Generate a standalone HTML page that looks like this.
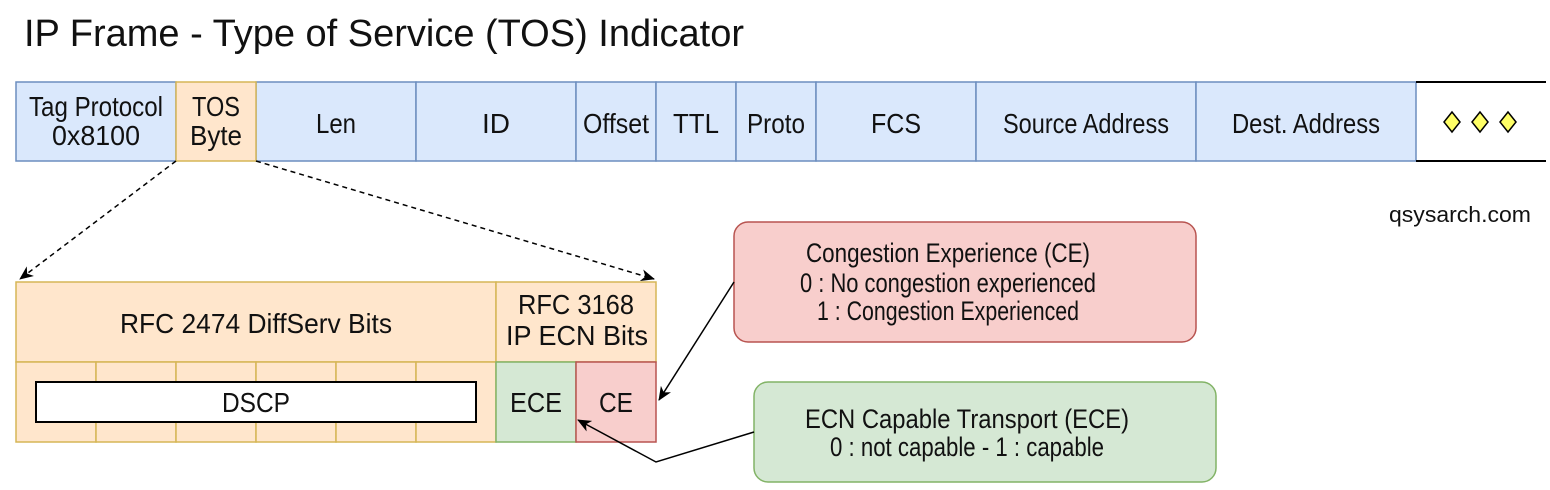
<!DOCTYPE html>
<html><head><meta charset="utf-8"><style>
body{margin:0;background:#fff;width:1550px;height:485px;overflow:hidden}
svg text{font-family:"Liberation Sans",sans-serif;fill:#111;text-anchor:middle}
</style></head><body>
<svg width="1550" height="485" xmlns="http://www.w3.org/2000/svg">
<defs><marker id="a" markerWidth="14" markerHeight="12" refX="13" refY="6" orient="auto" markerUnits="userSpaceOnUse"><path d="M0,0 L14,6 L0,12 L4,6 z" fill="#000"/></marker></defs>
<text x="24" y="46" font-size="38" style="text-anchor:start" textLength="720" lengthAdjust="spacingAndGlyphs">IP Frame  - Type of Service (TOS) Indicator</text>
<g stroke="#6c8ebf" stroke-width="1.5" fill="#dae8fc">
<rect x="16" y="82" width="160" height="79"/><rect x="256" y="82" width="160" height="79"/><rect x="416" y="82" width="160" height="79"/><rect x="576" y="82" width="80" height="79"/><rect x="656" y="82" width="80" height="79"/><rect x="736" y="82" width="80" height="79"/><rect x="816" y="82" width="160" height="79"/><rect x="976" y="82" width="220" height="79"/><rect x="1196" y="82" width="220" height="79"/>
</g>
<rect x="176" y="82" width="80" height="79" fill="#ffe6cc" stroke="#d6b656" stroke-width="1.5"/>
<line x1="1416" y1="82" x2="1546" y2="82" stroke="#000" stroke-width="2"/><line x1="1416" y1="161" x2="1546" y2="161" stroke="#000" stroke-width="2"/>
<g fill="#ffff66" stroke="#000" stroke-width="1.5"><path d="M1452,112 L1460,122 L1452,132 L1444,122z"/><path d="M1480,112 L1488,122 L1480,132 L1472,122z"/><path d="M1508,112 L1516,122 L1508,132 L1500,122z"/></g>
<g font-size="28">
<text x="96" y="116" textLength="134" lengthAdjust="spacingAndGlyphs">Tag Protocol</text><text x="96" y="145" textLength="88" lengthAdjust="spacingAndGlyphs">0x8100</text>
<text x="216" y="116" textLength="48" lengthAdjust="spacingAndGlyphs">TOS</text><text x="216" y="145" textLength="52" lengthAdjust="spacingAndGlyphs">Byte</text>
<text x="336" y="133" textLength="40" lengthAdjust="spacingAndGlyphs">Len</text><text x="496" y="133">ID</text><text x="616" y="133" textLength="66" lengthAdjust="spacingAndGlyphs">Offset</text><text x="696" y="133" textLength="46" lengthAdjust="spacingAndGlyphs">TTL</text><text x="776" y="133" textLength="58" lengthAdjust="spacingAndGlyphs">Proto</text><text x="896" y="133" textLength="50" lengthAdjust="spacingAndGlyphs">FCS</text><text x="1086" y="133" textLength="166" lengthAdjust="spacingAndGlyphs">Source Address</text><text x="1306" y="133" textLength="148" lengthAdjust="spacingAndGlyphs">Dest. Address</text>
</g>
<text x="1460" y="222" font-size="22" textLength="142" lengthAdjust="spacingAndGlyphs">qsysarch.com</text>
<g stroke="#000" stroke-width="1.5" stroke-dasharray="5,4" fill="none">
<line x1="176" y1="161" x2="20" y2="279" marker-end="url(#a)"/><line x1="256" y1="161" x2="654" y2="279" marker-end="url(#a)"/>
</g>
<g stroke="#d6b656" stroke-width="1.5" fill="#ffe6cc">
<rect x="16" y="282" width="480" height="80"/><rect x="496" y="282" width="160" height="80"/>
<rect x="16" y="362" width="80" height="80"/><rect x="96" y="362" width="80" height="80"/><rect x="176" y="362" width="80" height="80"/><rect x="256" y="362" width="80" height="80"/><rect x="336" y="362" width="80" height="80"/><rect x="416" y="362" width="80" height="80"/>
</g>
<rect x="496" y="362" width="80" height="80" fill="#d5e8d4" stroke="#82b366" stroke-width="1.5"/>
<rect x="576" y="362" width="80" height="80" fill="#f8cecc" stroke="#b85450" stroke-width="1.5"/>
<rect x="36" y="382" width="440" height="40" fill="#fff" stroke="#000" stroke-width="2"/>
<g font-size="28">
<text x="256" y="333" textLength="272" lengthAdjust="spacingAndGlyphs">RFC 2474 DiffServ Bits</text>
<text x="576" y="314" textLength="116" lengthAdjust="spacingAndGlyphs">RFC 3168</text><text x="577" y="345" textLength="142" lengthAdjust="spacingAndGlyphs">IP ECN Bits</text>
<text x="256" y="412" textLength="68" lengthAdjust="spacingAndGlyphs">DSCP</text><text x="536" y="412" textLength="52" lengthAdjust="spacingAndGlyphs">ECE</text><text x="616" y="412" textLength="34" lengthAdjust="spacingAndGlyphs">CE</text>
</g>
<rect x="734" y="222" width="462" height="120" rx="14" fill="#f8cecc" stroke="#b85450" stroke-width="1.5"/>
<rect x="754" y="382" width="462" height="100" rx="14" fill="#d5e8d4" stroke="#82b366" stroke-width="1.5"/>
<g font-size="27">
<text x="948" y="262" textLength="284" lengthAdjust="spacingAndGlyphs">Congestion Experience (CE)</text><text x="948" y="292" textLength="296" lengthAdjust="spacingAndGlyphs">0 : No congestion experienced</text><text x="948" y="320" textLength="262" lengthAdjust="spacingAndGlyphs">1 : Congestion Experienced</text>
<text x="967" y="428" textLength="324" lengthAdjust="spacingAndGlyphs">ECN Capable Transport (ECE)</text><text x="967" y="456" textLength="274" lengthAdjust="spacingAndGlyphs">0 : not capable - 1 : capable</text>
</g>
<g stroke="#000" stroke-width="1.5" fill="none">
<line x1="734" y1="282" x2="659" y2="400" marker-end="url(#a)"/>
<polyline points="754,432 656,462 578,420" marker-end="url(#a)"/>
</g>
</svg>
</body></html>
